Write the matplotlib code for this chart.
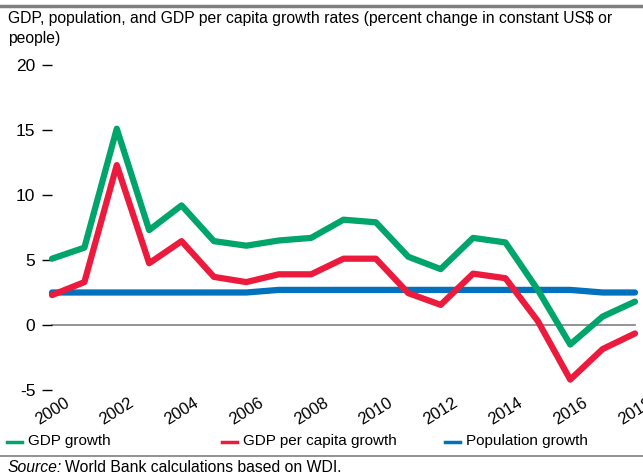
import numpy as np
import matplotlib.pyplot as plt
import matplotlib.transforms as mtransforms
from matplotlib.lines import Line2D

plt.rcParams["font.family"] = ["Liberation Sans", "DejaVu Sans"]

years = list(range(2000, 2019))
gdp_growth = [5.1, 5.95, 15.1, 7.3, 9.2, 6.45, 6.1, 6.5, 6.7, 8.1,
              7.9, 5.25, 4.3, 6.7, 6.35, 2.7, -1.5, 0.65, 1.8]
gdp_pc_growth = [2.3, 3.3, 12.3, 4.75, 6.45, 3.7, 3.3, 3.9, 3.9, 5.1,
                 5.1, 2.45, 1.55, 3.95, 3.6, 0.3, -4.2, -1.85, -0.65]
pop_growth = [2.5, 2.5, 2.5, 2.5, 2.5, 2.5, 2.5, 2.7, 2.7, 2.7,
              2.7, 2.7, 2.7, 2.7, 2.7, 2.7, 2.7, 2.5, 2.5]

series = ["GDP growth", "GDP per capita growth", "Population growth"]
colors = ["#00A56B", "#EC1B3E", "#0071BC"]
yticks = [-5, 0, 5, 10, 15, 20]
xticks = list(range(2000, 2019, 2))

W, H = 643, 476
fig = plt.figure(figsize=(W / 100, H / 100), dpi=100)
ax = fig.add_axes([52 / W, (H - 390) / H, (635 - 52) / W, (390 - 65) / H])

ax.axhline(0, color="#808080", lw=1.2, zorder=1)
ax.plot(years, pop_growth, color=colors[2], lw=4.5, solid_capstyle="round", zorder=2)
ax.plot(years, gdp_pc_growth, color=colors[1], lw=4.5, solid_capstyle="round", zorder=3)
ax.plot(years, gdp_growth, color=colors[0], lw=4.5, solid_capstyle="round", zorder=4)

ax.set_xlim(2000, 2018)
ax.set_ylim(-5, 20)
ax.set_yticks(yticks)
ax.set_yticklabels([str(v) for v in yticks], fontsize=12.5)
ax.set_xticks(xticks)
ax.set_xticklabels([str(v) for v in xticks], fontsize=12, rotation=32,
                   ha="center", va="top")
# nudge the year labels a little to the left, as in the original
shift = mtransforms.ScaledTranslation(-4 / 100, 0, fig.dpi_scale_trans)
for lab in ax.get_xticklabels():
    lab.set_transform(lab.get_transform() + shift)
ax.tick_params(axis="y", length=7, width=1, pad=5, color="black")
ax.tick_params(axis="x", length=0, pad=4)
for s in ax.spines.values():
    s.set_visible(False)
for ln in ax.lines:
    ln.set_clip_on(False)

# rules
fig.add_artist(Line2D([0, 1], [1 - 5.5 / H] * 2, color="#7f7f7f", lw=2.5))
fig.add_artist(Line2D([0, 1], [1 - 456 / H] * 2, color="#7f7f7f", lw=1.2))

fig.text(8 / W, 1 - 18 / H, "GDP, population, and GDP per capita growth rates (percent change in constant US$ or",
         fontsize=11.3, va="center", ha="left")
fig.text(8 / W, 1 - 39 / H, "people)", fontsize=11.3, va="center", ha="left")

# legend
for x0, label, c in zip([7, 222, 445], series, colors):
    fig.add_artist(Line2D([x0 / W, (x0 + 15) / W], [1 - 442 / H] * 2, color=c, lw=2.5))
    fig.text((x0 + 21) / W, 1 - 441 / H, label, fontsize=11, va="center", ha="left")

t1 = fig.text(8 / W, 1 - 467 / H, "Source:", fontsize=11.3, style="italic", va="center", ha="left")
fig.canvas.draw()
bb = t1.get_window_extent()
fig.text((bb.x1 + 3) / W, 1 - 467 / H, "World Bank calculations based on WDI.",
         fontsize=11.3, va="center", ha="left")

fig.savefig("out.png", dpi=100)
